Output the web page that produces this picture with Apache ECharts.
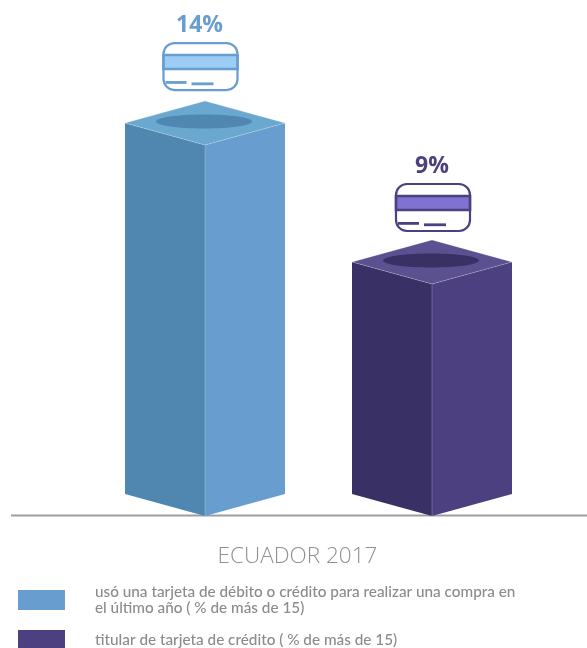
<!DOCTYPE html>
<html>
<head>
<meta charset="utf-8">
<style>html,body{margin:0;padding:0;background:#fff}#chart{width:587px;height:648px}</style>
<script src="https://cdn.jsdelivr.net/npm/echarts@6/dist/echarts.min.js"></script>
</head>
<body>
<div id="chart"></div>
<script>
// Card ownership and use in Ecuador, 2017
const title = 'ECUADOR 2017';
const categories = [
  'usó una tarjeta de débito o crédito para realizar una compra en\nel último año ( % de más de 15)',
  'titular de tarjeta de crédito ( % de más de 15)'
];
const debitOrCreditUse = [14];
const creditHolders = [9];

const blue = { left: '#4f87b0', right: '#689dcf', top: '#6aa8cf', stripe: '#9bcdf5' };
const purple = { left: '#393165', right: '#4c4080', top: '#5b5190', stripe: '#7f72d0' };

// Column faces, top plate, hole, value label and card icon for one value.
function columnRenderer(palette, cardShift, cardRise) {
  return function (params, api) {
    const cx = api.coord([api.value(0), 0.65])[0];
    const yTop = api.coord([api.value(0), api.value(1)])[1];
    const yBase = api.coord([api.value(0), 0.65])[1];
    const hw = 80, depth = 22;
    const edge = { stroke: 'rgba(255,255,255,0.28)', lineWidth: 0.8 };
    const cardX = cx + cardShift - 37;
    const cardY = yTop - cardRise;
    const ink = palette.right;
    return {
      type: 'group',
      children: [
        { type: 'polygon', shape: { points: [[cx - hw, yTop - depth], [cx, yTop], [cx, yBase], [cx - hw, yBase - depth]] },
          style: { fill: palette.left } },
        { type: 'polygon', shape: { points: [[cx, yTop], [cx + hw, yTop - depth], [cx + hw, yBase - depth], [cx, yBase]] },
          style: { fill: ink } },
        { type: 'line', shape: { x1: cx, y1: yTop, x2: cx, y2: yBase }, style: edge },
        { type: 'polygon', shape: { points: [[cx - hw, yTop - depth], [cx, yTop - 2 * depth], [cx + hw, yTop - depth], [cx, yTop]] },
          style: Object.assign({ fill: palette.top }, edge) },
        { type: 'ellipse', shape: { cx: cx - 1, cy: yTop - 23.5, rx: 48, ry: 7 }, style: { fill: palette.left } },
        // card icon
        { type: 'rect', shape: { x: cardX, y: cardY, width: 74, height: 47, r: 11 },
          style: { fill: '#fff', stroke: ink, lineWidth: 2.2 } },
        { type: 'rect', shape: { x: cardX, y: cardY + 12, width: 74, height: 14 },
          style: { fill: palette.stripe, stroke: ink, lineWidth: 2.6 } },
        { type: 'rect', shape: { x: cardX + 2, y: cardY + 38, width: 21, height: 2.8 }, style: { fill: ink } },
        { type: 'rect', shape: { x: cardX + 28, y: cardY + 39.4, width: 22, height: 2.8 }, style: { fill: ink } },
        { type: 'text', style: {
            x: cx + cardShift - 1, y: cardY - 18, text: api.value(1) + '%',
            fill: ink, font: 'bold 23px "Open Sans"', textAlign: 'center', textVerticalAlign: 'middle' } }
      ]
    };
  };
}

const legendText = { fontFamily: 'Lato', fontSize: 15.3, fontWeight: 500, color: '#8a8b8d', lineHeight: 16 };

const chart = echarts.init(document.getElementById('chart'), null, { renderer: 'canvas' });
chart.setOption({
  animation: false,
  backgroundColor: '#fff',
  title: {
    text: title, left: 292.5, top: 540, textAlign: 'center',
    textStyle: { fontFamily: 'Open Sans', fontWeight: 300, fontSize: 22.5, color: '#8f9092' }
  },
  grid: { left: 91.5, width: 454, top: 0, height: 516 },
  xAxis: { type: 'category', data: categories, show: false },
  yAxis: { type: 'value', min: 0.65, max: 19.22, show: false },
  legend: [
    { orient: 'vertical', left: 18, top: 584, padding: 0, itemWidth: 47, itemHeight: 20, icon: 'rect', selectedMode: false,
      data: [categories[0]], textStyle: Object.assign({ padding: [0, 0, 0, 25] }, legendText) },
    { orient: 'vertical', left: 18, top: 630, padding: 0, itemWidth: 47, itemHeight: 20, icon: 'rect', selectedMode: false,
      data: [categories[1]], textStyle: Object.assign({ padding: [0, 0, 3, 25] }, legendText) }
  ],
  graphic: [{
    type: 'line', z: 1, shape: { x1: 11, y1: 515.5, x2: 587, y2: 515.5 },
    style: { stroke: '#9c9d9f', lineWidth: 2 }
  }],
  series: [
    { type: 'custom', name: categories[0], z: 5, itemStyle: { color: blue.right }, encode: { x: 0, y: 1 },
      data: debitOrCreditUse.map(v => [0, v]), renderItem: columnRenderer(blue, -4.5, 102), clip: false },
    { type: 'custom', name: categories[1], z: 5, itemStyle: { color: purple.right }, encode: { x: 0, y: 1 },
      data: creditHolders.map(v => [1, v]), renderItem: columnRenderer(purple, 1, 100), clip: false }
  ]
});
</script>
</body>
</html>
